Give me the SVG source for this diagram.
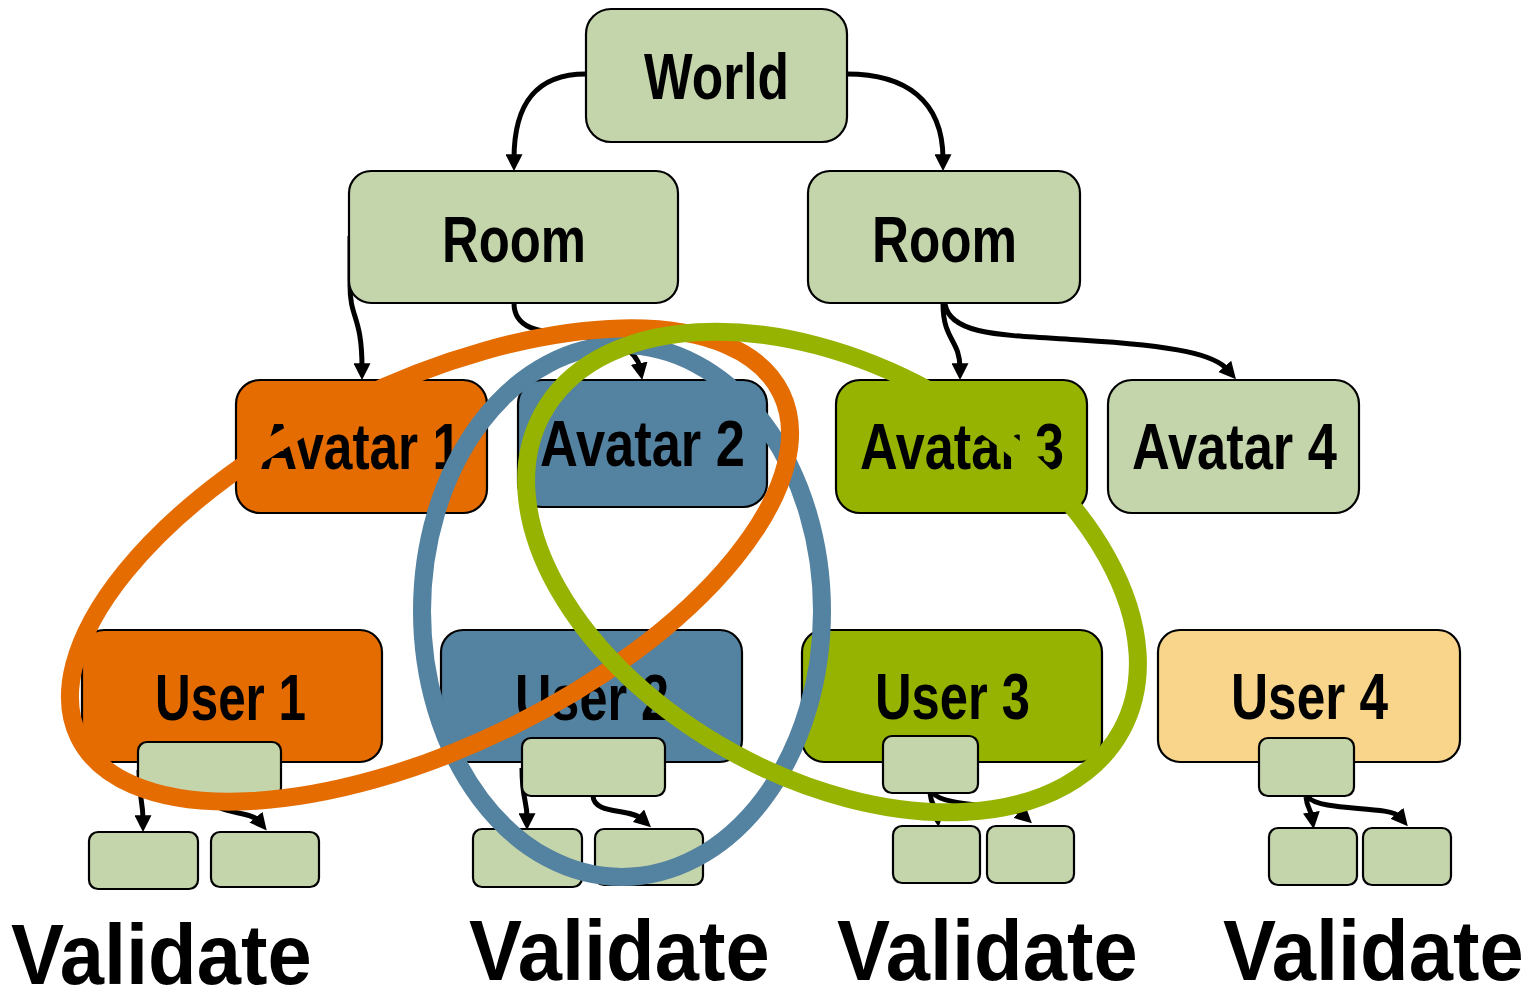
<svg xmlns="http://www.w3.org/2000/svg" width="1533" height="1000" viewBox="0 0 1533 1000">
  <style>
    .box { stroke: #000; stroke-width: 2.2; }
    .pale { fill: #C5D5AB; }
    .org { fill: #E46C00; }
    .blu { fill: #5482A1; }
    .grn { fill: #95B300; }
    .yel { fill: #F8D58A; }
    .lbl { font-family: "Liberation Sans", Arial, sans-serif; font-weight: bold; font-size: 64px; fill: #000; }
    .big { font-family: "Liberation Sans", Arial, sans-serif; font-weight: bold; font-size: 86px; fill: #000; }
    .edge { fill: none; stroke: #000; stroke-width: 5; marker-end: url(#arr); }
    .ring { fill: none; stroke-width: 18; }
  </style>
  <defs>
    <marker id="arr" viewBox="0 0 14 14" refX="4" refY="7" markerWidth="17" markerHeight="17" markerUnits="userSpaceOnUse" orient="auto">
      <path d="M0,0 L14,7 L0,14 z" fill="#000"/>
    </marker>
  </defs>
  <rect width="1533" height="1000" fill="#fff"/>

  <!-- hierarchy links -->
  <g id="connectors">
    <path class="edge" d="M586,74 C535,74 514,105 514,159"/>
    <path class="edge" d="M847,74 C905,74 943,100 943,159"/>
    <path class="edge" d="M350,236 L350,285 C350,320 362,315 362,368"/>
    <path class="edge" d="M514,303 C514,328 535,332 580,336 C620,340 637,352 640,368"/>
    <path class="edge" d="M943,304 C943,340 960,340 960,368"/>
    <path class="edge" d="M945,304 C950,335 1000,335 1080,340 C1180,346 1215,355 1228,370"/>
    <path class="edge" d="M139,770 C139,800 143,800 143,820"/>
    <path class="edge" d="M210,797 C213,815 250,810 259,821"/>
    <path class="edge" d="M522,768 C522,800 527,800 527,818"/>
    <path class="edge" d="M593,796 C594,815 630,808 642,819"/>
    <path class="edge" d="M930,793 C931,805 936,808 937,815"/>
    <path class="edge" d="M933,793 C945,808 1010,803 1023,815"/>
    <path class="edge" d="M1306,797 C1307,808 1311,810 1312,817"/>
    <path class="edge" d="M1308,797 C1320,812 1390,805 1400,817"/>
  </g>

  <g id="world"><rect class="box pale" x="586" y="9" width="261" height="133" rx="25"/>
    <text class="lbl" x="644" y="99" textLength="145" lengthAdjust="spacingAndGlyphs">World</text></g>
  <g id="room-left"><rect class="box pale" x="349" y="171" width="329" height="132" rx="22"/>
    <text class="lbl" x="442" y="262" textLength="144" lengthAdjust="spacingAndGlyphs">Room</text></g>
  <g id="room-right"><rect class="box pale" x="808" y="171" width="272" height="132" rx="22"/>
    <text class="lbl" x="872" y="262" textLength="145" lengthAdjust="spacingAndGlyphs">Room</text></g>

  <g id="avatar-1"><rect class="box org" x="236" y="380" width="251" height="133" rx="24"/>
    <text class="lbl" x="260" y="469" textLength="201" lengthAdjust="spacingAndGlyphs">Avatar 1</text></g>
  <g id="avatar-2"><rect class="box blu" x="518" y="380" width="249" height="127" rx="24"/>
    <text class="lbl" x="540" y="466" textLength="205" lengthAdjust="spacingAndGlyphs">Avatar 2</text></g>
  <g id="avatar-3"><rect class="box grn" x="836" y="380" width="251" height="133" rx="24"/>
    <text class="lbl" x="860" y="469" textLength="204" lengthAdjust="spacingAndGlyphs">Avatar 3</text></g>
  <g id="avatar-4"><rect class="box pale" x="1108" y="380" width="251" height="133" rx="24"/>
    <text class="lbl" x="1132" y="469" textLength="205" lengthAdjust="spacingAndGlyphs">Avatar 4</text></g>

  <g id="user-1"><rect class="box org" x="82" y="630" width="300" height="132" rx="22"/>
    <text class="lbl" x="155" y="720" textLength="151" lengthAdjust="spacingAndGlyphs">User 1</text></g>
  <g id="user-2"><rect class="box blu" x="441" y="630" width="301" height="132" rx="22"/>
    <text class="lbl" x="515" y="720" textLength="154" lengthAdjust="spacingAndGlyphs">User 2</text></g>
  <g id="user-3"><rect class="box grn" x="802" y="630" width="300" height="132" rx="22"/>
    <text class="lbl" x="875" y="719" textLength="155" lengthAdjust="spacingAndGlyphs">User 3</text></g>
  <g id="user-4"><rect class="box yel" x="1158" y="630" width="302" height="132" rx="22"/>
    <text class="lbl" x="1231" y="719" textLength="157" lengthAdjust="spacingAndGlyphs">User 4</text></g>

  <!-- per-user sub-trees -->
  <g id="u1-root"><rect class="box pale" x="138" y="742" width="143" height="55" rx="9"/></g>
  <g id="u1-a"><rect class="box pale" x="89" y="832" width="109" height="57" rx="9"/></g>
  <g id="u1-b"><rect class="box pale" x="211" y="832" width="108" height="55" rx="9"/></g>
  <g id="u2-root"><rect class="box pale" x="522" y="738" width="143" height="58" rx="9"/></g>
  <g id="u2-a"><rect class="box pale" x="473" y="829" width="109" height="58" rx="9"/></g>
  <g id="u2-b"><rect class="box pale" x="595" y="829" width="108" height="56" rx="9"/></g>
  <g id="u3-root"><rect class="box pale" x="883" y="736" width="95" height="57" rx="9"/></g>
  <g id="u3-a"><rect class="box pale" x="893" y="826" width="87" height="57" rx="9"/></g>
  <g id="u3-b"><rect class="box pale" x="987" y="826" width="87" height="57" rx="9"/></g>
  <g id="u4-root"><rect class="box pale" x="1259" y="738" width="95" height="58" rx="9"/></g>
  <g id="u4-a"><rect class="box pale" x="1269" y="828" width="88" height="57" rx="9"/></g>
  <g id="u4-b"><rect class="box pale" x="1363" y="828" width="88" height="57" rx="9"/></g>

  <!-- condensed captions: horizontal squeeze of the bold face -->
  <g id="validate-labels">
    <text class="big" transform="translate(11,984) scale(0.925,1)">Validate</text>
    <text class="big" transform="translate(469,980) scale(0.925,1)">Validate</text>
    <text class="big" transform="translate(837,980) scale(0.925,1)">Validate</text>
    <text class="big" transform="translate(1223,980) scale(0.925,1)">Validate</text>
  </g>

  <!-- overlapping scopes -->
  <g id="scopes">
    <ellipse class="ring" stroke="#5482A1" cx="622" cy="611" rx="200" ry="266"/>
    <ellipse class="ring" stroke="#E46C00" cx="430" cy="565" rx="391" ry="181" transform="rotate(-26.1 430 565)"/>
    <ellipse class="ring" stroke="#95B300" cx="832" cy="572" rx="330" ry="206" transform="rotate(28.7 832 572)"/>
  </g>
</svg>
